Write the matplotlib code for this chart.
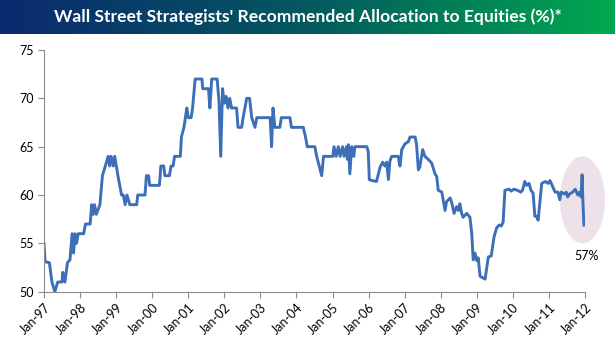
import numpy as np
import matplotlib
matplotlib.use("Agg")
import matplotlib.pyplot as plt
from matplotlib.colors import LinearSegmentedColormap
from matplotlib.patches import Ellipse

# Data (decimal year, allocation %)
years = [
    1997.00, 1997.03, 1997.15, 1997.22, 1997.30, 1997.38, 1997.50, 1997.52, 1997.58,
    1997.65, 1997.72, 1997.78, 1997.82, 1997.86, 1997.90, 1997.95, 1998.10, 1998.15,
    1998.28, 1998.32, 1998.36, 1998.40, 1998.45, 1998.55, 1998.62, 1998.70, 1998.78,
    1998.82, 1998.86, 1998.92, 1998.96, 1999.05, 1999.15, 1999.20, 1999.25, 1999.30,
    1999.38, 1999.57, 1999.60, 1999.80, 1999.84, 1999.90, 1999.93, 2000.20, 2000.24,
    2000.32, 2000.35, 2000.48, 2000.52, 2000.58, 2000.62, 2000.78, 2000.81, 2000.88,
    2000.96, 2001.00, 2001.08, 2001.12, 2001.19, 2001.38, 2001.40, 2001.56, 2001.60,
    2001.65, 2001.80, 2001.85, 2001.90, 2001.95, 2002.00, 2002.05, 2002.10, 2002.15,
    2002.20, 2002.34, 2002.38, 2002.48, 2002.52, 2002.62, 2002.70, 2002.76, 2002.85,
    2002.90, 2003.27, 2003.31, 2003.35, 2003.40, 2003.54, 2003.58, 2003.82, 2003.86,
    2004.19, 2004.25, 2004.30, 2004.51, 2004.56, 2004.63, 2004.70, 2004.75, 2005.01,
    2005.04, 2005.10, 2005.16, 2005.21, 2005.28, 2005.32, 2005.39, 2005.41, 2005.44,
    2005.48, 2005.53, 2005.59, 2005.62, 2005.95, 2005.99, 2006.02, 2006.09, 2006.22,
    2006.32, 2006.39, 2006.45, 2006.50, 2006.55, 2006.59, 2006.64, 2006.82, 2006.87,
    2006.92, 2007.01, 2007.10, 2007.15, 2007.29, 2007.33, 2007.38, 2007.42, 2007.50,
    2007.56, 2007.65, 2007.75, 2007.84, 2007.89, 2007.93, 2008.03, 2008.12, 2008.16,
    2008.26, 2008.30, 2008.37, 2008.44, 2008.49, 2008.53, 2008.58, 2008.62, 2008.72,
    2008.81, 2008.86, 2008.90, 2008.95, 2009.00, 2009.04, 2009.09, 2009.23, 2009.28,
    2009.32, 2009.40, 2009.48, 2009.55, 2009.62, 2009.68, 2009.73, 2009.78, 2009.90,
    2009.95, 2010.03, 2010.12, 2010.22, 2010.27, 2010.33, 2010.38, 2010.45, 2010.50,
    2010.56, 2010.61, 2010.66, 2010.70, 2010.80, 2010.90, 2010.98, 2011.03, 2011.10,
    2011.17, 2011.25, 2011.30, 2011.34, 2011.43, 2011.48, 2011.52, 2011.57, 2011.66,
    2011.73, 2011.80, 2011.85, 2011.89, 2011.92, 2011.94, 2011.97,
]
alloc = [
    55.0, 53.1, 53.0, 51.0, 50.0, 51.0, 51.0, 52.0, 51.0,
    53.0, 53.3, 56.0, 54.0, 56.0, 55.0, 56.0, 56.0, 57.0,
    57.0, 59.0, 58.0, 59.0, 58.0, 59.0, 62.0, 63.0, 64.0,
    63.0, 64.0, 63.0, 64.0, 62.0, 60.0, 60.0, 59.0, 60.0,
    59.0, 59.0, 60.0, 60.0, 62.0, 62.0, 61.0, 61.0, 63.0,
    63.0, 62.0, 62.0, 63.0, 63.0, 64.0, 64.0, 66.0, 67.0,
    69.0, 68.0, 68.0, 69.0, 72.0, 72.0, 71.0, 71.0, 69.0,
    72.0, 72.0, 69.8, 64.0, 71.0, 69.5, 70.2, 69.0, 70.0,
    69.0, 69.0, 67.0, 67.0, 68.0, 70.0, 70.0, 68.0, 67.0,
    68.0, 68.0, 65.0, 69.0, 67.0, 67.0, 68.0, 68.0, 67.0,
    67.0, 66.0, 65.0, 65.0, 64.0, 63.0, 62.0, 64.0, 64.0,
    65.0, 64.0, 65.0, 64.0, 65.0, 64.0, 65.0, 63.7, 65.2,
    62.2, 65.0, 64.0, 65.0, 65.0, 64.5, 61.6, 61.5, 61.4,
    62.9, 63.4, 63.0, 63.4, 61.6, 63.5, 64.0, 64.0, 63.0,
    64.7, 65.3, 65.5, 66.0, 66.0, 65.2, 62.6, 62.9, 64.7,
    64.0, 63.7, 63.3, 62.2, 61.9, 60.5, 60.3, 58.4, 59.3,
    59.7, 59.3, 58.1, 58.8, 58.4, 59.1, 58.1, 57.7, 58.1,
    57.7, 56.0, 53.3, 54.0, 53.2, 53.5, 51.6, 51.3, 52.6,
    53.6, 53.7, 55.7, 56.6, 56.9, 56.8, 57.2, 60.5, 60.6,
    60.4, 60.6, 60.5, 60.3, 60.5, 61.4, 61.0, 61.2, 60.5,
    60.2, 57.8, 57.8, 57.4, 61.2, 61.4, 61.2, 61.5, 60.9,
    60.3, 60.3, 59.5, 60.3, 60.1, 60.3, 59.8, 60.1, 60.3,
    60.6, 60.0, 60.3, 59.8, 62.1, 59.5, 56.9,
]
tick_years = list(range(1997, 2013))
tick_labels = ["Jan-%02d" % (y % 100) for y in tick_years]

plt.rcParams['font.family'] = ['Lato', 'DejaVu Sans']

fig = plt.figure(figsize=(6.15, 3.53), dpi=100)

# title banner with blue-to-green gradient
bar = fig.add_axes([0, 1 - 34 / 353, 1, 34 / 353])
cmap = LinearSegmentedColormap.from_list("banner", ["#0b2a6e", "#04585f", "#00a94f"])
bar.imshow(np.linspace(0, 1, 256)[None, :], aspect='auto', cmap=cmap, extent=[0, 1, 0, 1])
bar.set_axis_off()
bar.text(0.5, 0.5, "Wall Street Strategists' Recommended Allocation to Equities (%)*",
         color='white', fontsize=12.6, fontweight='bold', ha='center', va='center')

ax = fig.add_axes([44 / 615, 1 - 291.7 / 353, 541 / 615, 241.7 / 353])

# highlight ellipse around the latest reading
ell = Ellipse((2011.93, 59.5), 1.25, 9.0, facecolor='#ede2ea', edgecolor='none',
              clip_on=False, zorder=1)
ax.add_patch(ell)

ax.plot(years, alloc, color='#3d6fb8', linewidth=2.1, zorder=2)
ax.text(2012.05, 53.7, "57%", fontsize=9, ha='center', va='center', color='black')

ax.set_xlim(1997, 2012)
ax.set_ylim(50, 75)
ax.set_yticks([50, 55, 60, 65, 70, 75])
ax.set_xticks(tick_years)
ax.set_xticklabels(tick_labels, rotation=45, ha='right', rotation_mode='anchor')

for side in ['top', 'right']:
    ax.spines[side].set_visible(False)
for side in ['left', 'bottom']:
    ax.spines[side].set_color('#8c8c8c')
ax.tick_params(axis='both', colors='#8c8c8c', labelcolor='black', labelsize=9,
               direction='out', length=4)
ax.tick_params(axis='x', pad=3)

fig.savefig("out.png", dpi=100)
